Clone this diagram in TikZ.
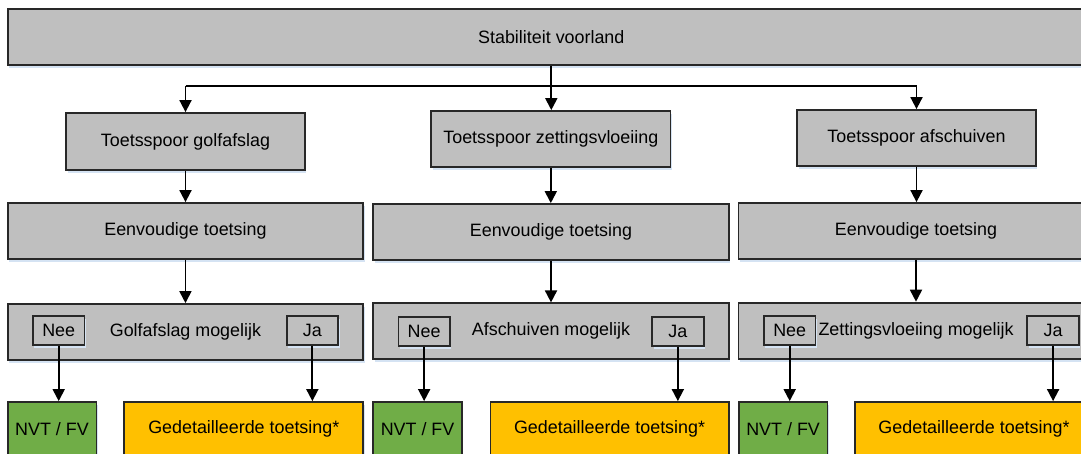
\documentclass[tikz,border=0pt]{standalone}
\usepackage{fontspec}
\setmainfont{Liberation Sans}
\usetikzlibrary{arrows.meta,shadows}
\definecolor{boxgray}{RGB}{191,191,191}
\definecolor{boxgreen}{RGB}{112,173,71}
\definecolor{boxorange}{RGB}{255,192,0}
\definecolor{shadowblue}{RGB}{213,227,243}
\definecolor{edgecol}{RGB}{40,40,40}
\tikzset{
  bx/.style={draw=edgecol, line width=1.8pt, inner sep=0pt, fill=boxgray,
    font=\fontsize{17.9}{20}\selectfont, text=black,
    drop shadow={shadow xshift=1.5pt, shadow yshift=-3pt, fill=shadowblue, opacity=1}},
  big/.style={bx, minimum width=#1, minimum height=56pt},
  yn/.style={bx, minimum width=51.5pt, minimum height=28.7pt},
  bot/.style={bx, minimum height=54pt, minimum width=#1},
  arr/.style={-{Triangle[width=12pt,length=12pt]}, line width=1.8pt, draw=black},
  ln/.style={line width=1.8pt, draw=black},
}
\begin{document}
\begin{tikzpicture}[x=1pt,y=-1pt]
\useasboundingbox (0,0) rectangle (1081,454);
\clip (0,0) rectangle (1081,454);
\fill[white] (0,0) rectangle (1081,454);
% top
\node[big=1087.4pt] (top) at (551.3,37) {Stabiliteit voorland};
% toetssporen
\node[bx, minimum width=238.7pt, minimum height=57pt] (T1) at (185.5,141.5) {Toetsspoor golfafslag};
\node[big=239.2pt] (T2) at (550.8,139) {Toetsspoor zettingsvloeiing};
\node[big=238.8pt] (T3) at (916.5,138) {Toetsspoor afschuiven};
% eenvoudige toetsing
\node[big=355.7pt] (E1) at (185.45,231) {Eenvoudige toetsing};
\node[big=355.4pt] (E2) at (551,232) {Eenvoudige toetsing};
\node[big=355pt] (E3) at (916,231) {Eenvoudige toetsing};
% mogelijk
\node[big=355.7pt] (M1) at (185.45,332) {Golfafslag mogelijk};
\node[big=355.4pt] (M2) at (551,331.3) {Afschuiven mogelijk};
\node[big=355pt] (M3) at (916,330.6) {Zettingsvloeiing mogelijk};
\node[yn] (N1) at (58.7,330.7) {Nee};
\node[yn] (J1) at (312.35,330.7) {Ja};
\node[yn] (N2) at (424.15,331.3) {Nee};
\node[yn] (J2) at (677.85,331.3) {Ja};
\node[yn] (N3) at (789.7,330.5) {Nee};
\node[yn] (J3) at (1053.1,330.5) {Ja};
% bottom
\node[bot=88.8pt, fill=boxgreen] (G1) at (52,429) {NVT / FV};
\node[bot=239pt, fill=boxorange] (O1) at (243.8,429) {Gedetailleerde toetsing*};
\node[bot=88.5pt, fill=boxgreen] (G2) at (417.55,429) {NVT / FV};
\node[bot=238.3pt, fill=boxorange] (O2) at (609.55,429) {Gedetailleerde toetsing*};
\node[bot=88.6pt, fill=boxgreen] (G3) at (783.1,429) {NVT / FV};
\node[bot=238pt, fill=boxorange] (O3) at (974,429) {Gedetailleerde toetsing*};
% connectors
\coordinate (j) at (551.3,86);
\draw[arr] (top.south -| j) -- (T2.north -| j);
\draw[ln] (T1.north |- j) -- (T3.north |- j);
\draw[arr] (T1.north |- j) -- (T1.north);
\draw[arr] (T3.north |- j) -- (T3.north);
\draw[arr] (T1.south) -- (E1.north -| T1.south);
\draw[arr] (T2.south) -- (E2.north -| T2.south);
\draw[arr] (T3.south) -- (E3.north -| T3.south);
\draw[arr] (E1.south) -- (M1.north -| E1.south);
\draw[arr] (E2.south) -- (M2.north -| E2.south);
\draw[arr] (E3.south) -- (M3.north -| E3.south);
\draw[arr] (N1.south) -- (G1.north -| N1.south);
\draw[arr] (J1.south) -- (O1.north -| J1.south);
\draw[arr] (N2.south) -- (G2.north -| N2.south);
\draw[arr] (J2.south) -- (O2.north -| J2.south);
\draw[arr] (N3.south) -- (G3.north -| N3.south);
\draw[arr] (J3.south) -- (O3.north -| J3.south);
\end{tikzpicture}
\end{document}
